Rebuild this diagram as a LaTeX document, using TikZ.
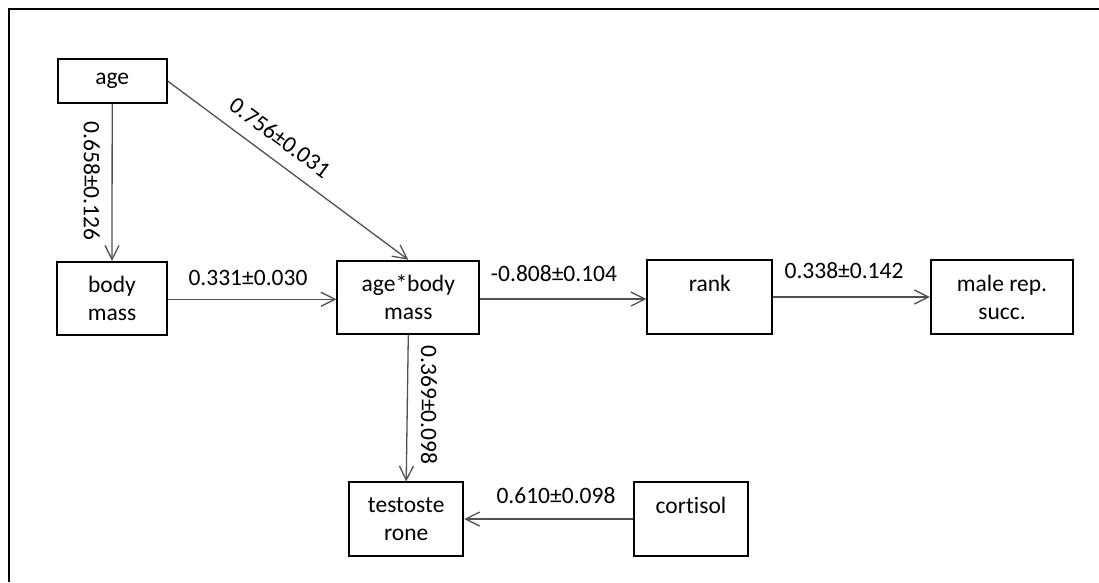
\documentclass[tikz,border=0pt]{standalone}
\usepackage{fontspec}
\setmainfont[Ligatures=NoCommon]{Carlito}
\usetikzlibrary{arrows.meta}
\definecolor{conn}{RGB}{80,80,80}
\tikzset{
  box/.style={draw=black, line width=1.8pt, fill=white, align=center, inner sep=0pt,
    font=\fontsize{23.5}{28}\selectfont},
  lbl/.style={inner sep=0pt, font=\fontsize{23.5}{28}\selectfont},
  conn/.style={draw=conn, line width=1.3pt, -{Straight Barb[length=14pt,width=14pt,line width=1.3pt]}},
}
\begin{document}
\begin{tikzpicture}[x=1pt,y=-1pt]
\useasboundingbox (0,0) rectangle (1099,582);
\draw[line width=2pt] (8.5,582) -- (8.5,9) -- (1099,9);
% nodes
\node[box, minimum width=109pt, minimum height=44pt] (age) at (112.2,81) {age};
\node[box, minimum width=109.4pt, minimum height=73pt] (body) at (112,298.3) {body\\mass};
\node[box, minimum width=142pt, minimum height=73.3pt] (ab) at (408.3,297.3) {age*body\\mass};
\node[box, minimum width=125pt, minimum height=74pt] (rank) at (709.8,297) {rank\\\phantom{x}};
\node[box, minimum width=142.6pt, minimum height=74pt] (male) at (1002,297) {male rep.\\succ.};
\node[box, minimum width=114.3pt, minimum height=73.7pt] (testo) at (406.2,519.2) {testoste\\rone};
\node[box, minimum width=113.7pt, minimum height=73.4pt] (cort) at (691,519) {cortisol\\\phantom{x}};
% connectors
\draw[conn] (age.south) -- (body.north);
\draw[conn] (age.east) -- (ab.north);
\draw[conn] ([yshift=-1pt]body.east) -- ([yshift=-1pt]body.east -| ab.west);
\draw[conn] ([yshift=-1.7pt]ab.east) -- ([yshift=-1.7pt]ab.east -| rank.west);
\draw[conn] (rank.east) -- (rank.east -| male.west);
\draw[conn] (ab.south) -- (testo.north);
\draw[conn] (cort.west) -- (cort.west -| testo.east);
% labels
\node[lbl, rotate=-90] (l1) at (91.7,181) {0.658±0.126};
\node[lbl, rotate=-36.4] (l2) at (280,137.5) {0.756±0.031};
\node[lbl] (l3) at (248,277.5) {0.331±0.030};
\node[lbl] (l4) at (554,273.5) {-0.808±0.104};
\node[lbl] (l5) at (844,270.5) {0.338±0.142};
\node[lbl, rotate=-90] (l6) at (429,405) {0.369±0.098};
\node[lbl] (l7) at (556,495.5) {0.610±0.098};
\end{tikzpicture}
\end{document}
